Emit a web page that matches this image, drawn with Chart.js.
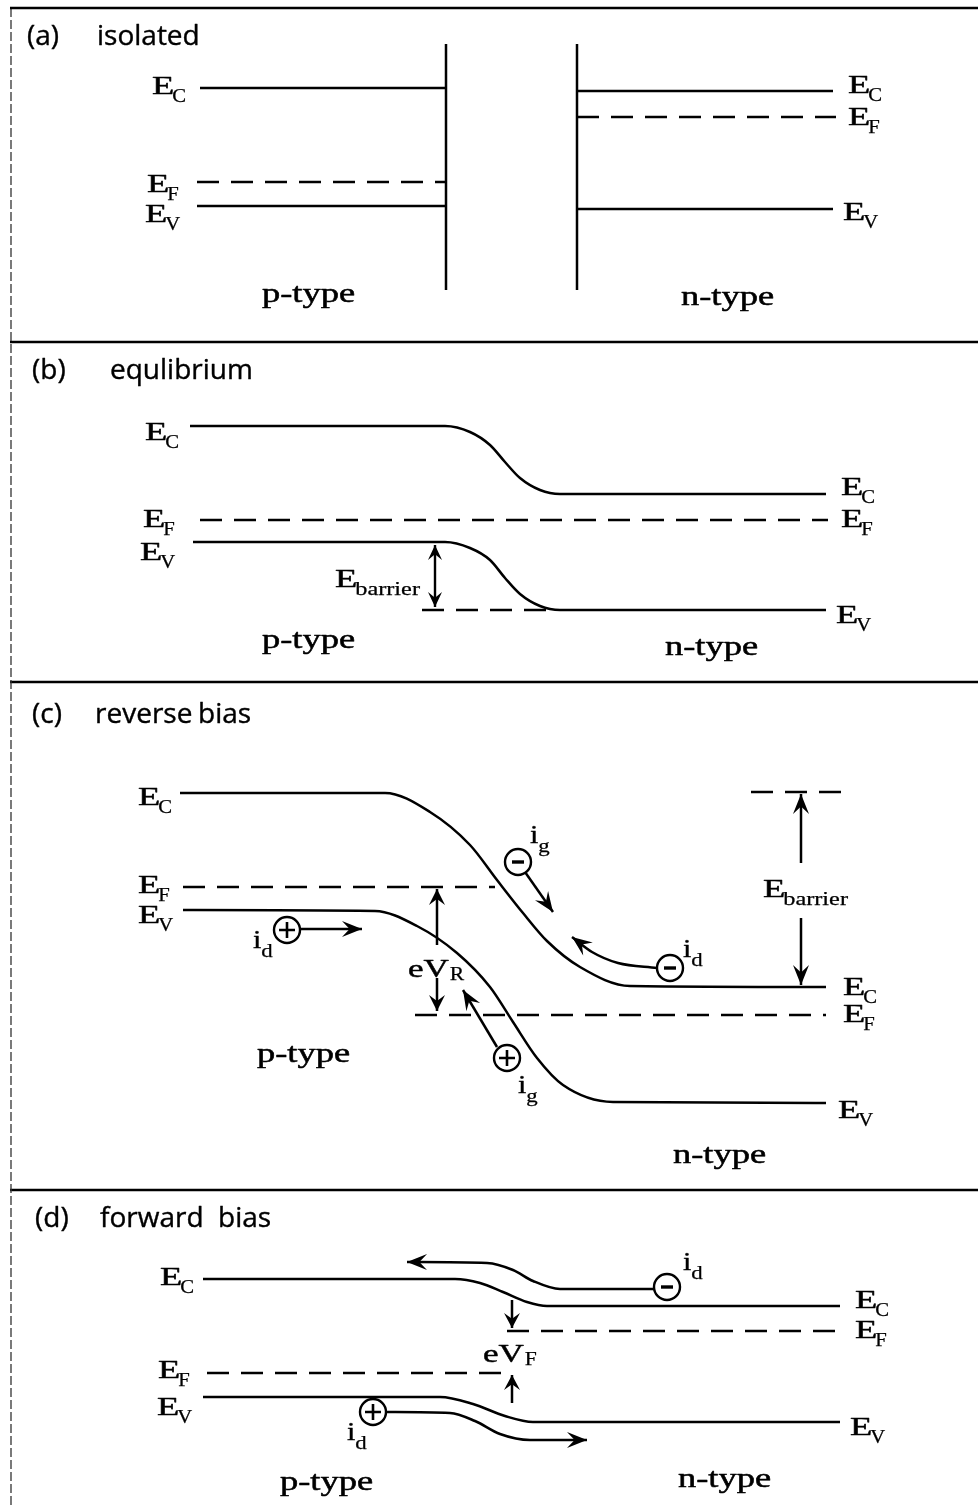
<!DOCTYPE html>
<html>
<head>
<meta charset="utf-8">
<script src="https://cdn.jsdelivr.net/npm/chart.js@4.4.1/dist/chart.umd.min.js"></script>
<style>
  html, body { margin: 0; padding: 0; background: #fff; }
  canvas { display: block; }
</style>
</head>
<body>
<canvas id="bands" width="978" height="1508" style="width:978px;height:1508px"></canvas>
<script>
// Drawing space: x = position across the junction, y = energy (drawn downward)
const W = 978, H = 1508;

// ---- frame ----
const frameTop   = [[10, 8], [978, 8]];
const frameLeft  = [[11, 8], [11, 1508]];
const dividers   = [342, 682, 1190];

// ---- (a) isolated ----
const aWallP = [[446, 44], [446, 290]];
const aWallN = [[577, 44], [577, 290]];
const aEcP = [[200, 88], [446, 88]];
const aEfP = [[197, 182], [446, 182]];
const aEvP = [[197, 206], [446, 206]];
const aEcN = [[577, 91], [833, 91]];
const aEfN = [[577, 117], [836, 117]];
const aEvN = [[577, 209], [833, 209]];

// ---- (b) equilibrium ----
const bEc = [[190, 426], [445, 426], [470, 432], [490, 445], [505, 462], [520, 478], [540, 490], [560, 494], [826, 494]];
const bEv = [[193, 542], [445, 542], [470, 548], [490, 560], [505, 578], [520, 594], [540, 606], [560, 610], [826, 610]];
const bEf = [[200, 520], [828, 520]];
const bBarrierRef = [[422, 610], [555, 610]];
const bBarrier = [[435, 545], [435, 607]];

// ---- (c) reverse bias ----
const cEc = [[180, 793], [385, 793], [430, 812], [470, 845], [497, 880], [523, 913], [547, 941], [580, 967], [630, 986], [826, 987]];
const cEv = [[183, 910], [375, 911], [417, 926], [457, 953], [490, 987], [513, 1022], [537, 1058], [563, 1085], [613, 1102], [826, 1103]];
const cEfP = [[183, 887], [495, 887]];
const cEfN = [[415, 1015], [826, 1015]];
const cBarrierRef = [[751, 792], [850, 792]];
const cHoleDiff = [[300, 929], [362, 929]];
const cElecGen = [[525, 872], [553, 912]];
const cElecDiff = [[572, 937], [592, 952], [618, 963], [657, 968]];
const cHoleGen = [[463, 990], [497, 1047]];
const cVrUp = [[437, 945], [437, 889]];
const cVrDown = [[437, 978], [437, 1011]];
const cBarUp = [[801, 863], [801, 794]];
const cBarDown = [[801, 918], [801, 985]];

// ---- (d) forward bias ----
const dEc = [[203, 1279], [455, 1279], [480, 1283], [503, 1292], [527, 1302], [547, 1306], [840, 1306]];
const dEv = [[203, 1397], [440, 1397], [473, 1404], [505, 1416], [533, 1422], [840, 1422]];
const dEfP = [[207, 1373], [513, 1373]];
const dEfN = [[507, 1331], [845, 1331]];
const dElecPath = [[407, 1262], [487, 1263], [513, 1270], [533, 1281], [560, 1289], [654, 1289]];
const dHolePath = [[386, 1412], [450, 1413], [475, 1421], [500, 1434], [530, 1440], [587, 1440]];
const dVfDown = [[512, 1300], [512, 1328]];
const dVfUp = [[512, 1403], [512, 1375]];

// ---- carriers ----
const holes = [[287, 930], [507, 1058], [373, 1412]];
const electrons = [[518, 862], [670, 968], [667, 1287]];

// ---- text ----
const titles = [
  ['(a)', 27, 45], ['isolated', 97, 45],
  ['(b)', 32, 379], ['equlibrium', 110, 379],
  ['(c)', 32, 723], ['reverse', 95, 723], ['bias', 198, 723],
  ['(d)', 35, 1227], ['forward', 100, 1227], ['bias', 218, 1227]
];
const regionLabels = [
  ['p-type', 262, 302], ['n-type', 681, 305],
  ['p-type', 262, 648], ['n-type', 665, 655],
  ['p-type', 257, 1062], ['n-type', 673, 1163],
  ['p-type', 280, 1490], ['n-type', 678, 1487]
];
// [main, subscript, x, baseline]
const levelLabels = [
  ['E', 'C', 152, 94], ['E', 'F', 147, 192], ['E', 'V', 145, 222],
  ['E', 'C', 848, 93], ['E', 'F', 848, 125], ['E', 'V', 843, 220],
  ['E', 'C', 145, 440], ['E', 'F', 143, 527], ['E', 'V', 140, 560],
  ['E', 'C', 841, 495], ['E', 'F', 841, 527], ['E', 'V', 836, 623],
  ['E', 'C', 138, 805], ['E', 'F', 138, 893], ['E', 'V', 138, 923],
  ['E', 'C', 843, 995], ['E', 'F', 843, 1022], ['E', 'V', 838, 1118],
  ['E', 'C', 160, 1285], ['E', 'F', 158, 1378], ['E', 'V', 157, 1415],
  ['E', 'C', 855, 1308], ['E', 'F', 855, 1338], ['E', 'V', 850, 1435],
  ['E', 'barrier', 335, 587], ['E', 'barrier', 763, 897]
];
const currentLabels = [
  ['i', 'd', 253, 948], ['i', 'g', 530, 843], ['i', 'd', 683, 957], ['i', 'g', 518, 1093],
  ['i', 'd', 683, 1270], ['i', 'd', 347, 1440]
];
const biasLabels = [
  ['eV', 'R', 408, 977], ['eV', 'F', 483, 1362]
];

// ---- dataset builders ----
const toXY = pts => pts.map(([x, y]) => ({ x, y }));
function seg(pts, extra) {
  return Object.assign({
    data: toXY(pts), showLine: true, borderColor: '#000', borderWidth: 2.5,
    pointRadius: 0, pointHoverRadius: 0, fill: false, tension: 0, order: 1
  }, extra || {});
}
const dashed = { borderDash: [22, 12] };
const smooth = { cubicInterpolationMode: 'monotone' };

const datasets = [
  seg(frameTop, { borderWidth: 2.5 }),
  seg(frameLeft, { borderWidth: 1.3, borderColor: '#333', borderDash: [9, 3] }),
  ...dividers.map(y => seg([[10, y], [978, y]], { borderWidth: 2.5 })),

  seg(aWallP), seg(aWallN), seg(aEcP), seg(aEfP, dashed), seg(aEvP),
  seg(aEcN), seg(aEfN, dashed), seg(aEvN),

  seg(bEc, smooth), seg(bEv, smooth), seg(bEf, dashed), seg(bBarrierRef, dashed),
  seg(bBarrier, { head: 'both', headLen: 15, headW: 7, borderWidth: 2.4 }),

  seg(cEc, smooth), seg(cEv, smooth), seg(cEfP, dashed), seg(cEfN, dashed),
  seg(cBarrierRef, dashed),
  seg(cHoleDiff, { head: 'end' }), seg(cElecGen, { head: 'end' }),
  seg(cElecDiff, Object.assign({ head: 'start' }, smooth)), seg(cHoleGen, { head: 'start' }),
  seg(cVrUp, { head: 'end', headLen: 16 }), seg(cVrDown, { head: 'end', headLen: 16 }),
  seg(cBarUp, { head: 'end' }), seg(cBarDown, { head: 'end' }),

  seg(dEc, smooth), seg(dEv, smooth), seg(dEfP, dashed), seg(dEfN, dashed),
  seg(dElecPath, Object.assign({ head: 'start' }, smooth)),
  seg(dHolePath, Object.assign({ head: 'end' }, smooth)),
  seg(dVfDown, { head: 'end', headLen: 15 }), seg(dVfUp, { head: 'end', headLen: 15 }),

  // carriers: rings, then their signs on top
  { data: toXY(holes.concat(electrons)), showLine: false, pointStyle: 'circle', pointRadius: 13,
    pointBorderWidth: 2.4, pointBorderColor: '#000', pointBackgroundColor: '#fff',
    borderColor: '#000', backgroundColor: '#fff', order: -1 },
  { data: toXY(holes), showLine: false, pointStyle: 'cross', pointRadius: 8,
    pointBorderWidth: 2.6, pointBorderColor: '#000', borderColor: '#000', order: -2 },
  { data: toXY(electrons), showLine: false, pointStyle: 'line', pointRadius: 6,
    pointBorderWidth: 3.4, pointBorderColor: '#000', borderColor: '#000', order: -2 }
];

// Barbed arrowheads at the ends of the current / energy arrows
const arrowHeads = {
  id: 'arrowHeads',
  afterDatasetsDraw(chart) {
    const ctx = chart.ctx;
    chart.data.datasets.forEach((ds, i) => {
      if (!ds.head) return;
      const pts = chart.getDatasetMeta(i).data;
      const n = pts.length;
      const ends = [];
      const pick = (p, cx, cy, alt) =>
        (cx !== undefined && Math.hypot(p.x - cx, p.y - cy) > 0.5) ? { x: cx, y: cy } : alt;
      if (ds.head === 'end' || ds.head === 'both') {
        const p = pts[n - 1];
        ends.push([p, pick(p, p.cp1x, p.cp1y, pts[n - 2])]);
      }
      if (ds.head === 'start' || ds.head === 'both') {
        const p = pts[0];
        ends.push([p, pick(p, p.cp2x, p.cp2y, pts[1])]);
      }
      const len = ds.headLen || 20, w = ds.headW || 8;
      ends.forEach(([tip, from]) => {
        const a = Math.atan2(tip.y - from.y, tip.x - from.x);
        const ux = Math.cos(a), uy = Math.sin(a);
        const bx = tip.x - ux * len, by = tip.y - uy * len;
        ctx.save();
        ctx.fillStyle = '#000';
        ctx.beginPath();
        ctx.moveTo(tip.x, tip.y);
        ctx.lineTo(bx - uy * w, by + ux * w);
        ctx.lineTo(tip.x - ux * len * 0.62, tip.y - uy * len * 0.62);
        ctx.lineTo(bx + uy * w, by - ux * w);
        ctx.closePath();
        ctx.fill();
        ctx.restore();
      });
    });
  }
};

// Text: panel titles, region names, level / current / bias symbols with subscripts
const SERIF = '"Liberation Serif", "Times New Roman", serif';
const SANS = '"Open Sans", "DejaVu Sans", sans-serif';
function put(ctx, text, x, y, font, hs, weight) {
  ctx.save();
  ctx.font = font;
  ctx.translate(x, y);
  ctx.scale(hs, 1);
  ctx.fillText(text, 0, 0);
  if (weight) {
    ctx.lineWidth = weight;
    ctx.strokeText(text, 0, 0);
  }
  const w = ctx.measureText(text).width * hs;
  ctx.restore();
  return w;
}
const textLayer = {
  id: 'textLayer',
  afterDraw(chart) {
    const ctx = chart.ctx;
    ctx.save();
    ctx.fillStyle = '#000';
    ctx.strokeStyle = '#000';
    ctx.lineJoin = 'round';
    ctx.textBaseline = 'alphabetic';
    titles.forEach(([t, x, y]) => put(ctx, t, x, y, '28px ' + SANS, 1, 0.4));
    regionLabels.forEach(([t, x, y]) => put(ctx, t, x, y, '27px ' + SERIF, 1.35, 0.5));
    levelLabels.forEach(([m, s, x, y]) => {
      const w = put(ctx, m, x, y, '26px ' + SERIF, 1.4, 0.45);
      put(ctx, s, x + w - 2, y + 8, '18px ' + SERIF, s.length > 1 ? 1.35 : 1.15, 0.25);
    });
    currentLabels.forEach(([m, s, x, y]) => {
      const w = put(ctx, m, x, y, '25px ' + SERIF, 1.2, 0.4);
      put(ctx, s, x + w, y + 9, '19px ' + SERIF, 1.2, 0.25);
    });
    biasLabels.forEach(([m, s, x, y]) => {
      const w = put(ctx, m, x, y, '25px ' + SERIF, 1.4, 0.45);
      put(ctx, s, x + w + 1, y + 3, '18px ' + SERIF, 1.2, 0.25);
    });
    ctx.restore();
  }
};

new Chart(document.getElementById('bands'), {
  type: 'scatter',
  data: { datasets },
  options: {
    responsive: false,
    animation: false,
    events: [],
    layout: { padding: 0, autoPadding: false },
    scales: {
      x: { type: 'linear', min: 0, max: W, display: false },
      y: { type: 'linear', min: 0, max: H, reverse: true, display: false }
    },
    plugins: { legend: { display: false }, tooltip: { enabled: false } }
  },
  plugins: [arrowHeads, textLayer]
});
</script>
</body>
</html>
